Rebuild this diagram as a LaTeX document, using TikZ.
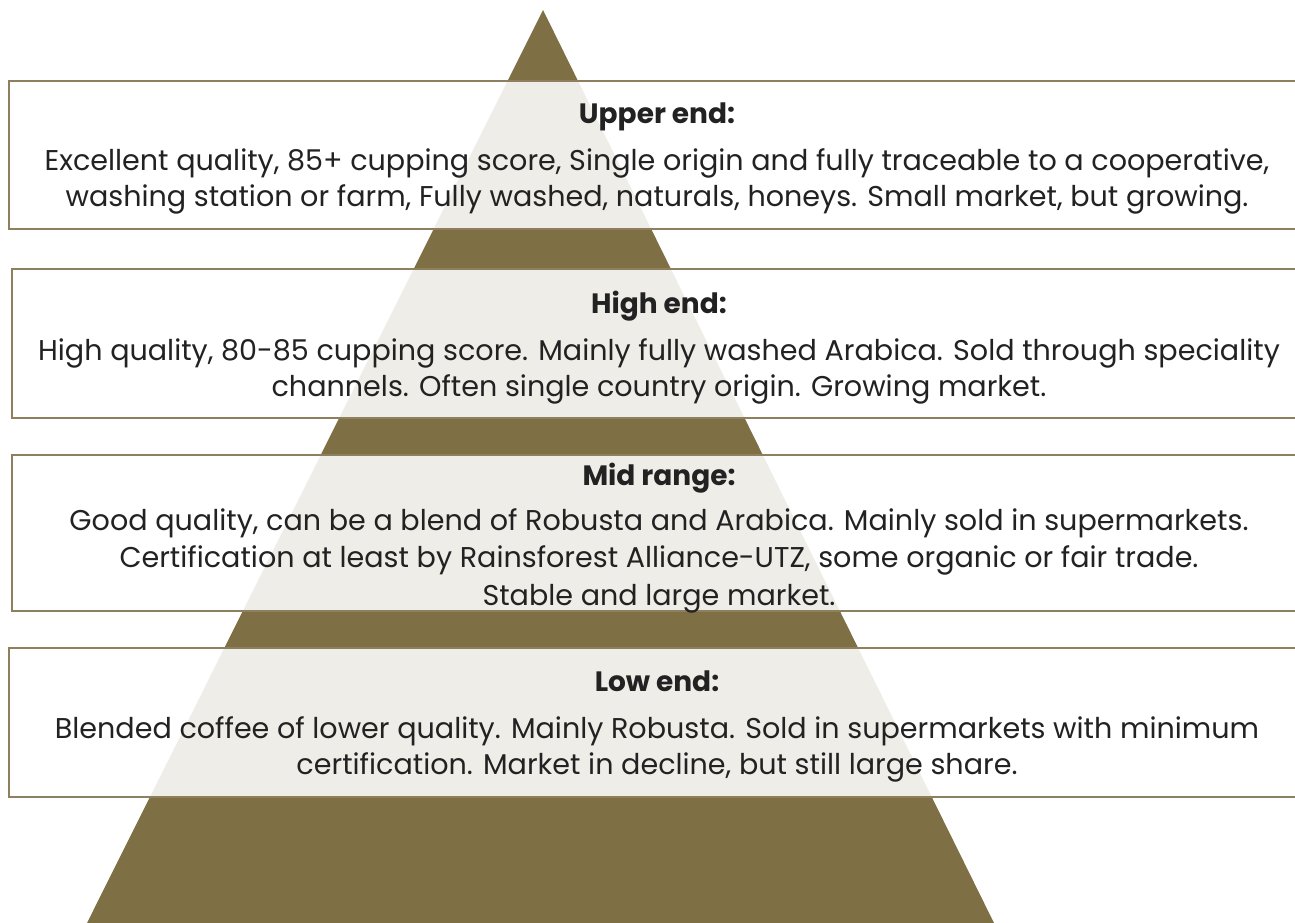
\documentclass[tikz,border=0pt]{standalone}
\usepackage{fontspec}
\setmainfont{Poppins}
\usepackage{xcolor}
\definecolor{pyramidbrown}{HTML}{7F6F45}
\definecolor{tierframe}{HTML}{8E7F5E}
\definecolor{tiertext}{HTML}{222222}
\newcommand{\tierhead}[1]{{\fontsize{28}{36}\selectfont\bfseries #1}}

\begin{document}
\begin{tikzpicture}[x=1pt, y=-1pt,
    tierbox/.style={draw=tierframe, line width=2.2pt, fill=white, fill opacity=0.88, inner sep=0pt},
    tiertitle/.style={text=tiertext, inner sep=0pt, align=center, font=\fontsize{28.6}{36}\selectfont}]
    \useasboundingbox (0,0) rectangle (1295,923);
    \clip (0,0) rectangle (1295,923);

    \coordinate (apex) at (543, 10);
    \coordinate (baseL) at (87, 923);
    \coordinate (baseR) at (994, 923);
    \fill[pyramidbrown] (apex) -- (baseR) -- (baseL) -- cycle;

    \node[tierbox, minimum width=1296pt, minimum height=148pt] (upper) at (657, 154.7) {};
    \node[tierbox, minimum width=1294pt, minimum height=149pt] (high) at (659, 343.5) {};
    \node[tierbox, minimum width=1294pt, minimum height=156pt] (mid) at (659, 533) {};
    \node[tierbox, minimum width=1296pt, minimum height=149pt] (low) at (657, 722.5) {};

    \node[tiertitle] (uppertext) at ([yshift=-4pt]upper.center) {\tierhead{Upper end:}\\[11pt]
        Excellent quality, 85+ cupping score, Single origin and fully traceable to a cooperative,\\
        washing station or farm, Fully washed, naturals, honeys. Small market, but growing.};
    \node[tiertitle] (hightext) at ([yshift=-4pt]high.center) {\tierhead{High end:}\\[11pt]
        High quality, 80-85 cupping score. Mainly fully washed Arabica. Sold through speciality\\
        channels. Often single country origin. Growing market.};
    \node[tiertitle] (midtext) at ([yshift=-5pt]mid.center) {\tierhead{Mid range:}\\[9pt]
        Good quality, can be a blend of Robusta and Arabica. Mainly sold in supermarkets.\\[1.5pt]
        Certification at least by Rainsforest Alliance-UTZ, some organic or fair trade.\\[1.5pt]
        Stable and large market.};
    \node[tiertitle] (lowtext) at ([yshift=-4pt]low.center) {\tierhead{Low end:}\\[11pt]
        Blended coffee of lower quality. Mainly Robusta. Sold in supermarkets with minimum\\
        certification. Market in decline, but still large share.};
\end{tikzpicture}
\end{document}
